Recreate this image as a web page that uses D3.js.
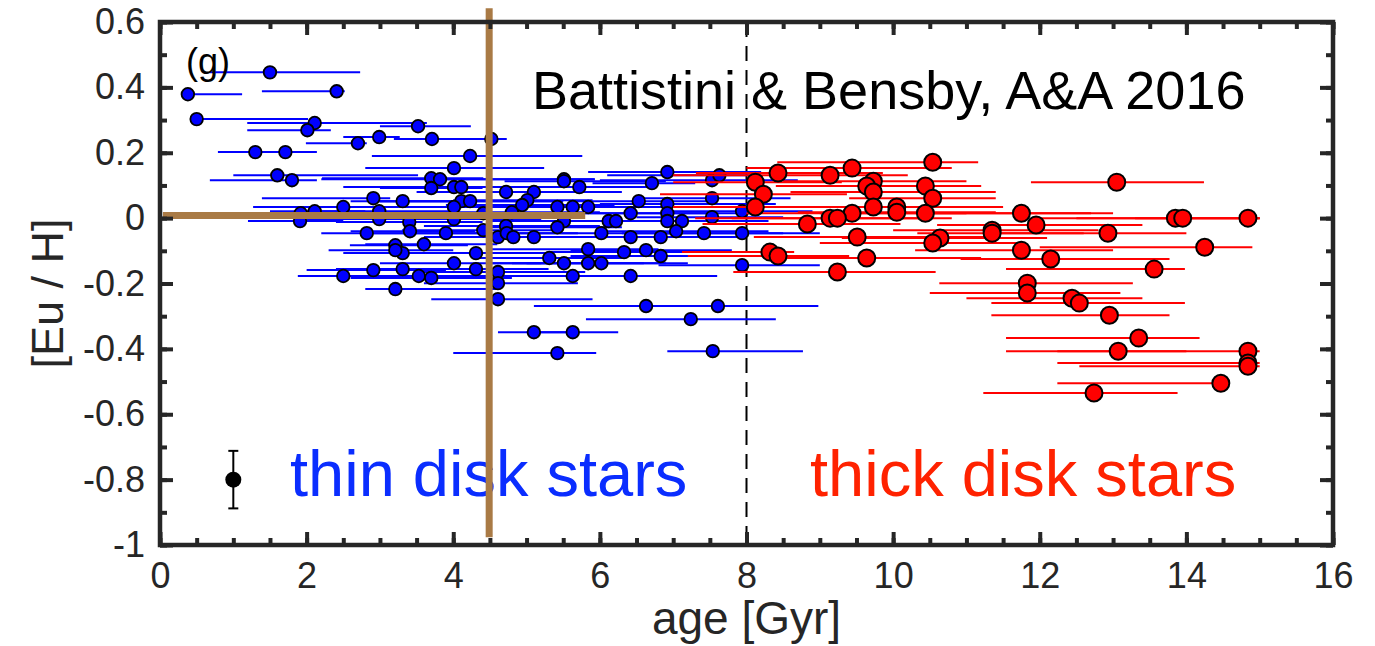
<!DOCTYPE html>
<html><head><meta charset="utf-8">
<script src="https://cdn.jsdelivr.net/npm/d3@7"></script>
<style>
html,body{margin:0;padding:0;background:#fff;}
text{font-family:"Liberation Sans",Arial,Helvetica,sans-serif;}
</style></head>
<body><svg id="c" width="1375" height="646"></svg>
<script>
// ---------- data ----------
const xTickLabels = ["0","2","4","6","8","10","12","14","16"];
const xTickValues = [0,2,4,6,8,10,12,14,16];
const yTickLabels = ["0.6","0.4","0.2","0","-0.2","-0.4","-0.6","-0.8","-1"];
const yTickValues = [0.6,0.4,0.2,0,-0.2,-0.4,-0.6,-0.8,-1];

// thin disk stars (blue): age, [Eu/H], age lower bound, age upper bound
const thinAge = [1.50,0.38,2.41,0.50,2.11,2.01,3.52,2.99,3.71,4.52,2.70,1.30,1.71,4.23,4.01,1.60,1.80,3.70,3.82,5.51,
  4.01,4.11,3.70,4.72,5.10,5.72,5.51,6.71,6.92,7.53,7.63,2.91,3.31,4.11,4.23,5.01,4.94,6.53,6.92,7.53,
  2.50,1.92,2.11,2.99,4.01,4.41,4.80,5.42,5.63,5.84,6.42,6.92,7.94,1.91,2.99,3.40,4.01,5.51,5.42,6.12,
  6.22,6.92,7.12,7.53,4.72,2.82,3.41,3.90,4.41,4.61,4.73,4.82,5.10,6.02,6.42,6.83,7.04,7.42,7.94,3.21,
  3.60,3.31,3.21,4.31,5.84,6.33,6.63,6.83,5.31,5.51,5.84,6.02,4.01,7.94,2.91,3.31,4.31,4.61,2.50,3.53,
  3.70,4.61,5.63,6.42,3.21,4.61,6.63,7.61,7.24,5.10,5.63,5.42,7.54];
const thinEu = [0.446,0.379,0.388,0.303,0.291,0.269,0.281,0.248,0.242,0.242,0.229,0.202,0.202,0.190,0.153,0.131,0.116,0.122,0.119,0.119,
  0.095,0.095,0.092,0.080,0.080,0.095,0.113,0.107,0.141,0.116,0.131,0.061,0.052,0.052,0.052,0.055,0.040,0.052,0.043,0.061,
  0.034,0.015,0.021,0.021,0.034,0.015,0.018,0.034,0.034,0.034,0.015,0.015,0.021,-0.009,-0.003,-0.012,-0.003,-0.009,-0.028,-0.009,
  -0.009,-0.009,-0.009,0.003,-0.024,-0.046,-0.040,-0.046,-0.037,-0.058,-0.046,-0.058,-0.058,-0.046,-0.058,-0.058,-0.040,-0.046,-0.046,-0.083,
  -0.080,-0.107,-0.098,-0.107,-0.095,-0.104,-0.098,-0.116,-0.122,-0.138,-0.138,-0.138,-0.138,-0.144,-0.159,-0.156,-0.156,-0.165,-0.177,-0.177,
  -0.183,-0.199,-0.177,-0.177,-0.217,-0.248,-0.269,-0.269,-0.309,-0.349,-0.349,-0.413,-0.407];
const thinLo = [0.68,0.29,1.39,0.50,1.19,1.19,3.00,2.50,3.19,4.00,1.99,0.79,1.09,2.89,2.80,1.00,0.68,2.21,2.20,3.82,
  2.50,2.90,3.00,3.50,4.00,4.10,4.70,5.90,5.84,6.00,6.10,1.39,2.60,2.90,3.00,4.00,3.90,5.60,6.00,6.50,
  1.27,0.98,1.50,2.20,3.00,3.30,3.80,4.60,4.80,4.90,5.50,5.80,6.90,1.20,2.00,2.40,2.60,4.50,4.40,5.20,
  5.00,6.00,6.20,6.50,3.60,2.20,2.60,2.80,3.30,3.60,3.80,3.70,4.00,5.00,5.40,5.80,6.00,6.30,6.90,2.59,
  2.80,2.50,2.30,3.20,4.50,5.30,5.60,5.60,4.30,4.50,4.80,5.00,3.00,6.80,2.00,2.40,3.30,3.60,1.88,2.40,
  2.60,3.60,4.60,5.30,2.80,3.70,5.10,6.60,5.81,4.61,5.00,4.00,6.92];
const thinHi = [2.73,1.12,2.52,2.02,3.64,2.33,4.24,3.27,4.05,4.73,2.82,1.94,2.14,5.76,5.24,3.52,2.14,4.41,5.93,5.93,
  4.80,5.30,4.40,5.60,6.30,6.70,6.90,7.30,8.20,8.70,8.20,3.14,4.10,5.50,5.40,5.90,6.20,7.50,8.40,8.60,
  3.40,3.10,2.80,4.00,5.30,5.40,6.00,6.40,6.50,6.90,7.50,8.00,8.90,2.50,4.00,4.40,5.20,6.60,6.30,7.20,
  7.10,7.90,8.30,8.50,6.00,3.80,4.30,5.00,5.50,5.80,5.70,6.10,6.40,7.00,7.60,7.90,8.30,8.50,9.00,4.20,
  4.60,4.30,4.00,5.30,6.80,7.40,7.80,7.60,6.30,6.60,6.90,7.20,5.20,9.00,3.90,4.50,5.30,5.80,3.40,4.50,
  4.80,5.70,6.80,7.60,4.60,5.90,7.80,8.98,8.40,5.70,6.25,5.95,8.77];

// thick disk stars (red)
const thickAge = [10.54,8.43,9.14,9.44,9.73,9.64,9.73,10.44,10.54,8.12,8.23,8.12,9.73,10.05,10.05,10.44,9.44,9.14,9.24,8.83,
  11.35,11.35,9.51,10.64,10.54,8.32,8.43,9.64,9.24,13.05,11.75,11.95,12.93,13.85,13.95,14.84,11.75,12.15,14.25,13.56,
  11.83,11.83,12.44,12.54,12.95,13.35,13.07,14.84,14.84,14.84,14.47,12.74];
const thickEu = [0.171,0.138,0.131,0.153,0.113,0.098,0.080,0.098,0.061,0.110,0.073,0.034,0.034,0.034,0.018,0.015,0.015,0.000,0.000,-0.018,
  -0.037,-0.046,-0.058,-0.061,-0.076,-0.104,-0.116,-0.122,-0.165,0.110,0.015,-0.021,-0.046,0.000,0.000,0.000,-0.098,-0.125,-0.089,-0.156,
  -0.199,-0.229,-0.245,-0.260,-0.297,-0.367,-0.407,-0.407,-0.443,-0.453,-0.505,-0.535];
const thickLo = [8.42,7.31,7.00,8.00,8.50,8.40,8.60,9.00,9.40,7.00,6.82,7.00,8.20,8.80,8.70,9.00,8.00,7.30,7.80,7.40,
  10.00,10.33,8.10,9.30,9.00,7.12,7.20,8.30,7.82,11.88,10.50,10.60,11.30,12.50,12.00,13.30,10.30,10.92,12.00,11.54,
  10.63,10.50,11.00,11.34,11.34,11.54,11.54,12.24,12.24,12.54,12.24,11.23];
const thickHi = [11.16,9.86,10.20,10.80,11.00,11.20,11.40,11.20,11.40,9.30,9.37,10.00,11.20,11.50,11.40,12.70,11.00,10.50,10.80,10.10,
  12.80,12.60,11.30,12.10,11.80,8.65,9.40,11.20,10.58,14.24,13.00,13.40,14.00,15.00,15.00,15.00,13.00,13.77,14.90,13.98,
  13.27,13.10,13.40,13.98,13.77,14.18,14.00,15.00,15.00,15.00,14.56,13.88];

// typical error marker
const refAge = [1.0], refEu = [-0.80], refErr = [0.088];
// reference lines
const guideAge = [4.49], guideEu = [0.008], guideEuSpan = [-0.976, 0.642], guideAgeSpan = [0.04, 5.80];
const splitAge = [8];

// ---------- chart ----------
const svg = d3.select("#c");
const L = 160, R = 1333, T = 22, B = 545;
const x = d3.scaleLinear().domain([0,16]).range([L,R]);
const y = d3.scaleLinear().domain([-1,0.6]).range([B,T]);
const ink = "#262626";

svg.append("rect").attr("width",1375).attr("height",646).attr("fill","#fff");

// dashed split line
svg.append("g").selectAll("line").data(splitAge).join("line")
  .attr("x1",d=>x(d)).attr("x2",d=>x(d)).attr("y1",y(0.6)).attr("y2",y(-1))
  .attr("stroke","#000").attr("stroke-width",2).attr("stroke-dasharray","15 9");

function series(ages, eus, lo, hi, color, r, sw) {
  const g = svg.append("g");
  const idx = d3.range(ages.length);
  g.append("g").selectAll("line").data(idx).join("line")
    .attr("x1",i=>x(lo[i])).attr("x2",i=>x(hi[i]))
    .attr("y1",i=>y(eus[i])).attr("y2",i=>y(eus[i]))
    .attr("stroke",color).attr("stroke-width",2);
  g.append("g").selectAll("circle").data(idx).join("circle")
    .attr("cx",i=>x(ages[i])).attr("cy",i=>y(eus[i])).attr("r",r)
    .attr("fill",color).attr("stroke","#000").attr("stroke-width",sw);
}
series(thinAge, thinEu, thinLo, thinHi, "#0000ff", 6.3, 1.8);
series(thickAge, thickEu, thickLo, thickHi, "#ff0000", 8.5, 2);

// reference error point
const rg = svg.append("g");
refAge.forEach((a,i)=>{
  const cx = x(a), y0 = y(refEu[i]-refErr[i]), y1 = y(refEu[i]+refErr[i]);
  rg.append("line").attr("x1",cx).attr("x2",cx).attr("y1",y0).attr("y2",y1).attr("stroke","#000").attr("stroke-width",2);
  [y0,y1].forEach(yy=>rg.append("line").attr("x1",cx-5).attr("x2",cx+5).attr("y1",yy).attr("y2",yy).attr("stroke","#000").attr("stroke-width",2));
  rg.append("circle").attr("cx",cx).attr("cy",y(refEu[i])).attr("r",8).attr("fill","#000");
});

// texts
svg.append("text").attr("x",186).attr("y",74).attr("font-size",36).attr("fill","#000").text("(g)");
svg.append("text").attr("x",532).attr("y",109).attr("font-size",54).attr("fill","#000").text("Battistini & Bensby, A&A 2016");
svg.append("text").attr("x",290).attr("y",496).attr("font-size",65).attr("fill","#0a2dff").text("thin disk stars");
svg.append("text").attr("x",810).attr("y",496).attr("font-size",65).attr("fill","#ff2200").text("thick disk stars");

// brown guide lines
const brown = "#a97a45";
svg.append("g").selectAll("line").data(guideAge).join("line")
  .attr("x1",d=>x(d)).attr("x2",d=>x(d)).attr("y1",y(guideEuSpan[1])).attr("y2",y(guideEuSpan[0]))
  .attr("stroke",brown).attr("stroke-width",7);
svg.append("g").selectAll("line").data(guideEu).join("line")
  .attr("x1",x(guideAgeSpan[0])).attr("x2",x(guideAgeSpan[1])).attr("y1",d=>y(d)).attr("y2",d=>y(d))
  .attr("stroke",brown).attr("stroke-width",7);

// axes
function styleAxis(g){ g.select(".domain").remove(); g.selectAll(".tick line").attr("stroke",ink).attr("stroke-width",4);
  g.selectAll("text").attr("fill",ink).attr("font-size",36).attr("font-family","Liberation Sans, Arial, sans-serif"); }
const xMinor = d3.range(0,16.01,0.5), yMinor = d3.range(-1,0.61,0.1);
svg.append("g").attr("transform",`translate(0,${B})`)
  .call(d3.axisBottom(x).tickValues(xMinor).tickSize(-7).tickFormat("")).call(styleAxis);
svg.append("g").attr("transform",`translate(0,${B})`)
  .call(d3.axisBottom(x).tickValues(xTickValues).tickSize(-13).tickPadding(17).tickFormat((d,i)=>xTickLabels[i])).call(styleAxis);
svg.append("g").attr("transform",`translate(0,${T})`)
  .call(d3.axisTop(x).tickValues(xMinor).tickSize(-7).tickFormat("")).call(styleAxis);
svg.append("g").attr("transform",`translate(0,${T})`)
  .call(d3.axisTop(x).tickValues(xTickValues).tickSize(-13).tickFormat("")).call(styleAxis);
svg.append("g").attr("transform",`translate(${L},0)`)
  .call(d3.axisLeft(y).tickValues(yMinor).tickSize(-7).tickFormat("")).call(styleAxis);
svg.append("g").attr("transform",`translate(${L},0)`)
  .call(d3.axisLeft(y).tickValues(yTickValues).tickSize(-13).tickPadding(15).tickFormat((d,i)=>yTickLabels[i])).call(styleAxis);
svg.append("g").attr("transform",`translate(${R},0)`)
  .call(d3.axisRight(y).tickValues(yMinor).tickSize(-7).tickFormat("")).call(styleAxis);
svg.append("g").attr("transform",`translate(${R},0)`)
  .call(d3.axisRight(y).tickValues(yTickValues).tickSize(-13).tickFormat("")).call(styleAxis);

// frame
svg.append("rect").attr("x",L).attr("y",T).attr("width",R-L).attr("height",B-T)
  .attr("fill","none").attr("stroke",ink).attr("stroke-width",4.5);

// axis titles
svg.append("text").attr("x",(L+R)/2).attr("y",634).attr("text-anchor","middle").attr("font-size",46).attr("fill",ink).text("age [Gyr]");
svg.append("text").attr("transform",`translate(63,${(T+B)/2+10}) rotate(-90)`).attr("text-anchor","middle").attr("font-size",45).attr("fill",ink).text("[Eu / H]");
</script></body></html>
